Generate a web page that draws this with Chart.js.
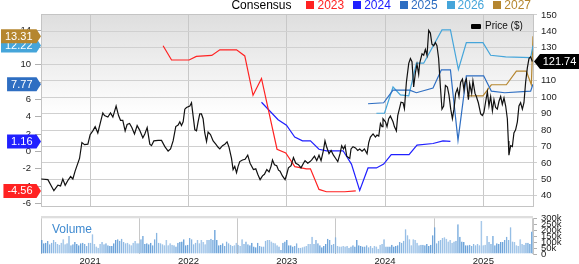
<!DOCTYPE html>
<html>
<head>
<meta charset="utf-8">
<script src="https://cdn.jsdelivr.net/npm/chart.js@4.4.1/dist/chart.umd.min.js"></script>
<style>
  body { margin: 0; background: #fff; font-family: "Liberation Sans", Arial, sans-serif; }
  #wrap { position: relative; width: 579px; height: 264px; overflow: hidden; }
  #priceCanvas { position: absolute; left: 0; top: 0; }
  #volCanvas { position: absolute; left: 0; top: 206px; }
  .legend { position: absolute; top: -2px; right: 48px; display: flex; align-items: center; font-size: 12px; line-height: 14px; white-space: nowrap; }
  .legend .sq { display: inline-block; width: 8px; height: 8px; margin: 0 3px 0 9px; }
  .plegend { position: absolute; left: 471px; top: 20px; font-size: 10px; line-height: 12px; color: #111; display: flex; align-items: center; }
  .plegend .psq { display: inline-block; width: 10px; height: 5px; background: #000; border-radius: 1px; margin-right: 4px; }
  .vlabel { position: absolute; left: 52px; top: 222px; font-size: 12px; line-height: 14px; color: #3f8ad0; }
</style>
</head>
<body>
<div id="wrap">
  <canvas id="priceCanvas" width="579" height="216" style="width:579px;height:216px"></canvas>
  <canvas id="volCanvas" width="579" height="58" style="width:579px;height:58px"></canvas>
  <div class="legend" id="legend"></div>
  <div class="plegend"><span class="psq"></span>Price ($)</div>
  <div class="vlabel">Volume</div>
</div>
<script>
// axis ticks
const yearTicks = [2021, 2022, 2023, 2024, 2025];
const epsTicks = [-6, -4, -2, 0, 2, 4, 6, 8, 10, 12, 14];
const priceTicks = [40, 50, 60, 70, 80, 90, 100, 110, 120, 130, 140, 150];
const volumeTicks = [0, 50, 100, 150, 200, 250, 300];

// price (weekly-ish, decimal years)
const priceDates = [
  2020.502, 2020.570, 2020.631, 2020.672, 2020.699, 2020.722, 2020.746, 2020.773, 2020.801, 2020.824, 2020.847, 2020.892, 2020.916, 2020.943, 2020.977,
  2021.000, 2021.027, 2021.051, 2021.078, 2021.106, 2021.129, 2021.146, 2021.180, 2021.207, 2021.231, 2021.264, 2021.289, 2021.309, 2021.332, 2021.356, 2021.376, 2021.401, 2021.424, 2021.451, 2021.478, 2021.502, 2021.536,
  2021.556, 2021.580, 2021.607, 2021.624, 2021.648, 2021.691, 2021.726, 2021.760, 2021.793, 2021.818, 2021.844, 2021.871, 2021.895, 2021.912, 2021.929, 2021.946, 2021.963, 2021.980,
  2022.014, 2022.031, 2022.047, 2022.065, 2022.082, 2022.098, 2022.115, 2022.132, 2022.149, 2022.166, 2022.184, 2022.200, 2022.224, 2022.251, 2022.278, 2022.302, 2022.319, 2022.346, 2022.370, 2022.393, 2022.413, 2022.438, 2022.454, 2022.471, 2022.489, 2022.505, 2022.522, 2022.550,
  2022.576, 2022.603, 2022.627, 2022.661, 2022.685, 2022.705, 2022.729, 2022.753, 2022.773, 2022.797, 2022.820, 2022.840, 2022.855, 2022.875, 2022.898, 2022.916, 2022.932, 2022.956, 2022.983,
  2023.000, 2023.017, 2023.044, 2023.068, 2023.092, 2023.119, 2023.145, 2023.170, 2023.186, 2023.214, 2023.237, 2023.254, 2023.282, 2023.305, 2023.328, 2023.349, 2023.373, 2023.389, 2023.407, 2023.430, 2023.451, 2023.475, 2023.498, 2023.519, 2023.542, 2023.559, 2023.577, 2023.593, 2023.610,
  2023.641, 2023.654, 2023.674, 2023.699, 2023.722, 2023.742, 2023.766, 2023.790, 2023.817, 2023.834, 2023.851, 2023.878, 2023.902, 2023.918, 2023.936, 2023.953, 2023.969, 2023.979,
  2024.004, 2024.020, 2024.037, 2024.054, 2024.081, 2024.095, 2024.115, 2024.129, 2024.149, 2024.162, 2024.183, 2024.197, 2024.217, 2024.241, 2024.258, 2024.274, 2024.291, 2024.309, 2024.325, 2024.342, 2024.352, 2024.376, 2024.393, 2024.410, 2024.427, 2024.444, 2024.461, 2024.477, 2024.495, 2024.512, 2024.528, 2024.545, 2024.563, 2024.579, 2024.596, 2024.614,
  2024.634, 2024.650, 2024.668, 2024.685, 2024.701, 2024.718, 2024.736, 2024.752, 2024.769, 2024.787, 2024.803, 2024.813, 2024.827, 2024.837, 2024.848, 2024.861, 2024.881, 2024.894, 2024.915, 2024.929, 2024.949, 2024.973, 2024.990,
  2025.006, 2025.024, 2025.041, 2025.057, 2025.074, 2025.092, 2025.108, 2025.125, 2025.142, 2025.159, 2025.176, 2025.193, 2025.210, 2025.227, 2025.244, 2025.254, 2025.260, 2025.278, 2025.295, 2025.311, 2025.328, 2025.346, 2025.362, 2025.379, 2025.397, 2025.413, 2025.430, 2025.447, 2025.464, 2025.481, 2025.498
];
const priceValues = [
  50.2, 49.8, 43.1, 46.4, 46.0, 50.2, 46.4, 49.3, 51.7, 50.2, 55.0, 62.7, 72.4, 71.1, 71.4,
  77.2, 79.5, 82.1, 78.2, 85.0, 90.4, 88.8, 87.9, 90.4, 87.9, 94.6, 88.8, 85.9, 85.9, 79.5, 83.4, 84.0, 81.5, 77.6, 82.7, 80.1, 75.3,
  77.6, 81.5, 71.4, 70.5, 73.4, 73.7, 73.7, 69.9, 67.2, 68.5, 73.4, 82.1, 83.0, 85.0, 82.7, 85.0, 92.7, 93.7,
  94.6, 96.6, 88.8, 80.1, 79.5, 85.0, 89.8, 89.8, 86.9, 78.2, 73.0, 78.8, 77.2, 73.4, 71.4, 69.5, 68.5, 70.5, 71.4, 72.8, 69.5, 62.7, 56.0, 57.9, 54.1, 57.9, 60.8, 61.8,
  62.2, 64.7, 59.8, 56.0, 56.4, 53.1, 49.8, 52.1, 53.1, 56.0, 54.5, 57.9, 61.8, 58.9, 58.3, 55.6, 55.0, 52.1, 49.8,
  53.1, 57.0, 58.3, 63.3, 59.8, 58.9, 57.0, 59.8, 61.4, 59.8, 60.8, 61.8, 64.1, 61.4, 64.7, 61.4, 67.6, 73.4, 69.5, 65.6, 67.6, 64.7, 62.7, 60.8, 65.6, 70.5, 68.5, 70.5, 64.1,
  62.7, 68.5, 69.9, 69.1, 67.6, 68.5, 67.2, 68.5, 65.6, 72.4, 75.7, 77.6, 75.7, 76.9, 76.3, 84.0, 82.1, 86.9,
  85.0, 82.1, 86.9, 88.5, 85.0, 82.1, 79.5, 88.8, 93.7, 96.9, 96.6, 93.1, 109.1, 120.6, 123.5, 121.6, 106.2, 114.9, 120.1, 113.9, 120.6, 126.4, 125.5, 129.0, 125.5, 140.6, 139.0, 132.2, 131.3, 133.2, 131.3, 123.5, 106.2, 92.7, 94.6, 107.2,
  106.2, 101.4, 92.7, 86.9, 92.7, 102.3, 105.2, 100.4, 109.1, 111.0, 104.3, 109.1, 111.0, 105.2, 98.5, 108.1, 102.3, 110.0, 102.3, 100.4, 96.6, 89.8, 88.8,
  90.8, 97.5, 103.3, 94.6, 100.4, 91.7, 98.5, 93.7, 92.7, 97.5, 100.4, 95.6, 99.5, 94.6, 86.9, 73.4, 64.7, 70.5, 69.9, 78.2, 80.1, 85.0, 94.6, 96.6, 92.7, 96.6, 109.1, 117.7, 123.5, 124.5, 121.74
];

// consensus EPS estimates per fiscal year
const est2023Dates = [2021.742, 2021.828, 2022.007, 2022.080, 2022.237, 2022.319, 2022.489, 2022.573, 2022.657, 2022.743, 2022.901, 2022.990, 2023.082, 2023.200, 2023.241, 2023.328, 2023.404, 2023.590, 2023.702];
const est2023Values = [12.21, 10.56, 10.56, 10.98, 11.09, 11.73, 11.73, 11.03, 6.49, 8.43, 0.26, -0.18, -1.75, -2.01, -2.01, -4.38, -4.65, -4.65, -4.56];
const est2024Dates = [2022.743, 2022.912, 2022.997, 2023.081, 2023.160, 2023.241, 2023.328, 2023.404, 2023.573, 2023.658, 2023.742, 2023.827, 2023.912, 2023.986, 2024.063, 2024.244, 2024.325, 2024.488, 2024.589, 2024.665];
const est2024Values = [5.68, 3.67, 3.04, 1.66, 1.22, 1.22, 0.26, 0.08, 0.08, -1.46, -4.49, -1.90, -1.90, -1.46, -0.36, -0.36, 0.74, 0.92, 1.22, 1.16];
const est2025Dates = [2023.827, 2023.986, 2024.081, 2024.250, 2024.319, 2024.488, 2024.573, 2024.665, 2024.742, 2024.827, 2025.003, 2025.081, 2025.217, 2025.481, 2025.505];
const est2025Values = [5.51, 5.62, 7.08, 7.08, 6.78, 7.33, 9.42, 9.42, 1.29, 8.73, 8.73, 6.97, 6.78, 6.97, 7.77];
const est2026Dates = [2023.912, 2023.994, 2024.081, 2024.156, 2024.241, 2024.319, 2024.393, 2024.579, 2024.665, 2024.746, 2024.827, 2024.996, 2025.074, 2025.227, 2025.481, 2025.505];
const est2026Values = [4.41, 4.41, 7.44, 6.53, 6.42, 10.19, 10.19, 14.03, 14.03, 9.46, 12.57, 12.57, 11.11, 10.92, 10.84, 12.22];
const est2027Dates = [2024.833, 2024.996, 2025.081, 2025.234, 2025.336, 2025.437, 2025.488, 2025.505];
const est2027Values = [6.42, 6.42, 7.70, 7.70, 9.27, 9.27, 7.70, 13.31];

const seriesYears = ['2023', '2024', '2025', '2026', '2027'];
const seriesColors = ['#ff2222', '#2020ff', '#2e6ec2', '#45a5da', '#b5862f'];
const lastEps = [-4.56, 1.16, 7.77, 12.22, 13.31];
const lastPrice = 121.74;

// weekly volume, thousands
const volumeValues = [
  118, 90, 95, 109, 81, 95, 118, 101, 84, 78, 95, 123, 81, 90, 151, 73, 81, 101, 84, 73, 90, 95, 84, 67, 95, 95, 165, 84, 62, 53, 84, 101, 81, 90, 73, 67, 67, 90, 118, 123, 112, 129, 101, 90, 95, 81, 73, 95, 109, 90, 90, 123, 151, 84, 90, 81, 95, 73, 123, 179, 95, 90, 81, 73,
  118, 73, 90, 78, 73, 62, 95, 101, 106, 123, 73, 78, 134, 123, 81, 95, 118, 90, 118, 101, 81, 118, 118, 129, 118, 202, 118, 73, 78, 90, 67, 106, 90, 78, 67, 73, 95, 78, 67, 123, 84, 106, 81, 73, 95, 62, 56, 95, 67, 62, 62, 112, 118, 118, 106, 95, 90, 73, 62, 34, 95, 106, 118, 73,
  73, 62, 67, 90, 53, 53, 56, 62, 67, 84, 84, 146, 84, 118, 90, 73, 56, 67, 84, 129, 118, 78, 84, 140, 67, 62, 62, 67, 62, 67, 53, 62, 73, 62, 118, 73, 67, 62, 62, 73, 56, 67, 53, 67, 62, 45, 78, 84, 123, 62, 62, 62, 78, 62, 67, 73, 101, 95, 112, 207, 157, 123, 73,
  123, 118, 95, 73, 78, 78, 73, 84, 67, 78, 157, 224, 90, 112, 118, 134, 140, 129, 106, 118, 95, 106, 112, 249, 146, 106, 101, 73, 73, 78, 67, 84, 73, 84, 73, 277, 73, 78, 151, 101, 84, 151, 73, 90, 84, 101, 101, 118, 146, 118, 224, 106, 101, 73, 67, 123, 84, 78, 95, 95, 84, 190
];
const volStart = 2020.51, volEnd = 2025.495;

const xMin = 2020.5, xMax = 2025.505;
const FONT = 'Liberation Sans, Arial, sans-serif';
const tickFont = { family: FONT, size: 9.5 };

// top legend
const legend = document.getElementById('legend');
legend.innerHTML = '<span style="margin-right:6px">Consensus</span>' + seriesYears.map((y, i) =>
  `<span class="sq" style="background:${seriesColors[i]}"></span><span style="color:${seriesColors[i]}">${y}</span>`).join('');

const pairs = (xs, ys) => xs.map((x, i) => ({ x: x, y: ys[i] }));
const estDates = [est2023Dates, est2024Dates, est2025Dates, est2026Dates, est2027Dates];
const estValues = [est2023Values, est2024Values, est2025Values, est2026Values, est2027Values];

const bgPlugin = {
  id: 'bg',
  beforeDraw(chart) {
    const { ctx, chartArea: a } = chart;
    const g = ctx.createLinearGradient(0, a.top, 0, 115);
    g.addColorStop(0, '#dedede');
    g.addColorStop(1, '#ffffff');
    ctx.save();
    ctx.fillStyle = g;
    ctx.fillRect(a.left, a.top, a.right - a.left, a.bottom - a.top);
    ctx.restore();
  }
};

function tag(ctx, text, color, y, side) {
  ctx.font = '11px ' + FONT;
  const w = ctx.measureText(text).width + 8;
  const h = 14;
  ctx.beginPath();
  if (side === 'left') {
    const r = 36.5, l = r - w;
    ctx.moveTo(l, y - h / 2); ctx.lineTo(r, y - h / 2); ctx.lineTo(41, y);
    ctx.lineTo(r, y + h / 2); ctx.lineTo(l, y + h / 2);
    ctx.closePath(); ctx.fillStyle = color; ctx.fill();
    ctx.fillStyle = '#fff'; ctx.textAlign = 'center'; ctx.textBaseline = 'middle';
    ctx.fillText(text, (l + r) / 2, y + 0.5);
  } else {
    ctx.moveTo(534, y); ctx.lineTo(540, y - 7.5); ctx.lineTo(579, y - 7.5);
    ctx.lineTo(579, y + 7.5); ctx.lineTo(540, y + 7.5);
    ctx.closePath(); ctx.fillStyle = color; ctx.fill();
    ctx.fillStyle = '#fff'; ctx.textAlign = 'center'; ctx.textBaseline = 'middle';
    ctx.fillText(text, 559.5, y + 0.5);
  }
}

const tagPlugin = {
  id: 'tags',
  afterDraw(chart) {
    const { ctx, chartArea: a, scales } = chart;
    ctx.save();
    ctx.strokeStyle = '#c4c4c4';
    ctx.lineWidth = 1;
    ctx.beginPath(); ctx.moveTo(a.left, a.top + 0.5); ctx.lineTo(a.right, a.top + 0.5); ctx.stroke();
    lastEps.forEach((v, i) => tag(ctx, v.toFixed(2), seriesColors[i], scales.yL.getPixelForValue(v), 'left'));
    tag(ctx, lastPrice.toFixed(2), '#000', scales.yR.getPixelForValue(lastPrice), 'right');
    ctx.restore();
  }
};

const estSets = seriesYears.map((y, i) => ({
  label: y, data: pairs(estDates[i], estValues[i]), yAxisID: 'yL',
  borderColor: seriesColors[i], borderWidth: 1.2
}));

new Chart(document.getElementById('priceCanvas'), {
  type: 'line',
  data: {
    datasets: [
      { label: 'Price ($)', data: pairs(priceDates, priceValues), yAxisID: 'yR', borderColor: '#111', borderWidth: 1.2 },
      ...estSets
    ]
  },
  options: {
    responsive: false, animation: false, devicePixelRatio: 1,
    layout: { padding: { top: 14, left: 0, right: 0, bottom: 0 } },
    plugins: { legend: { display: false }, tooltip: { enabled: false } },
    elements: { point: { radius: 0 }, line: { tension: 0 } },
    scales: {
      x: {
        type: 'linear', min: xMin, max: xMax, offset: false,
        afterBuildTicks: s => { s.ticks = yearTicks.map(v => ({ value: v })); },
        ticks: { display: false },
        grid: { color: '#c8c8c8', drawTicks: false },
        border: { color: '#c4c4c4' },
        afterFit: s => { s.height = 0; }
      },
      yL: {
        position: 'left', min: -6.33, max: 15.87,
        afterBuildTicks: s => { s.ticks = epsTicks.map(v => ({ value: v })); },
        ticks: { font: tickFont, color: '#222', padding: 4, callback: v => String(v) },
        grid: { drawOnChartArea: false, tickLength: 6, color: '#b0b0b0' },
        border: { color: '#c4c4c4' },
        afterFit: s => { s.width = 41; }
      },
      yR: {
        position: 'right', min: 33.6, max: 150.6,
        afterBuildTicks: s => { s.ticks = priceTicks.map(v => ({ value: v })); },
        ticks: { font: tickFont, color: '#222', padding: 4, callback: v => String(v) },
        grid: { color: '#d0d0d0', tickLength: 4 },
        border: { color: '#c4c4c4' },
        afterFit: s => { s.width = 46; }
      }
    }
  },
  plugins: [bgPlugin, tagPlugin]
});

// volume panel
const volStep = (volEnd - volStart) / (volumeValues.length - 1);
const volPoints = volumeValues.map((v, i) => ({ x: volStart + i * volStep, y: v }));

const bandPlugin = {
  id: 'band',
  beforeDraw(chart) {
    const { ctx, chartArea: a } = chart;
    ctx.save();
    ctx.fillStyle = '#dedede';
    ctx.fillRect(a.left, 10, a.right - a.left, a.top - 10);
    ctx.restore();
  }
};

new Chart(document.getElementById('volCanvas'), {
  type: 'bar',
  data: {
    datasets: [{
      data: volPoints, yAxisID: 'yV',
      backgroundColor: '#a3c7ea', borderColor: '#4a8dd0',
      borderWidth: { left: 1, right: 0, top: 0, bottom: 0 },
      barPercentage: 1, categoryPercentage: 0.9
    }]
  },
  options: {
    responsive: false, animation: false, devicePixelRatio: 1,
    layout: { padding: { top: 12.3, left: 41, right: 0, bottom: 0 } },
    plugins: { legend: { display: false }, tooltip: { enabled: false } },
    scales: {
      x: {
        type: 'linear', min: xMin, max: xMax, offset: false,
        afterBuildTicks: s => { s.ticks = yearTicks.map(v => ({ value: v })); },
        ticks: { font: tickFont, color: '#222', padding: 2, maxRotation: 0, callback: v => String(v) },
        grid: { color: '#c8c8c8', drawTicks: false },
        border: { display: false },
        afterFit: s => { s.height = 10; }
      },
      yV: {
        position: 'right', min: 0, max: 300,
        afterBuildTicks: s => { s.ticks = volumeTicks.map(v => ({ value: v })); },
        ticks: { font: tickFont, color: '#222', padding: 4, autoSkip: false, callback: v => v === 0 ? '0' : v + 'k' },
        grid: { drawOnChartArea: false, tickLength: 4, color: '#b0b0b0' },
        border: { color: '#c4c4c4' },
        afterFit: s => { s.width = 46; }
      }
    }
  },
  plugins: [bandPlugin]
});
</script>
</body>
</html>
